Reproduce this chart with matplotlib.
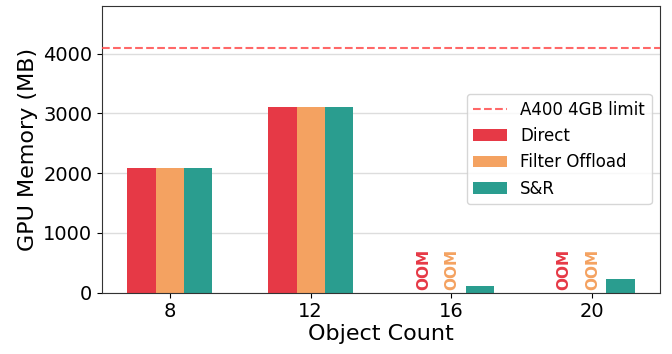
import matplotlib
matplotlib.use('Agg')
import matplotlib.pyplot as plt
import numpy as np

categories = ['8', '12', '16', '20']
direct = [2085, 3100, None, None]
filter_offload = [2085, 3100, None, None]
snr = [2085, 3100, 115, 230]
gpu_limit = 4096

colors = {'Direct': '#e63946', 'Filter Offload': '#f4a261', 'S&R': '#2a9d8f'}


def main():
    fig, ax = plt.subplots(figsize=(6.72, 3.54), dpi=100)
    fig.subplots_adjust(left=0.152, right=0.982, top=0.984, bottom=0.173)

    x = np.arange(len(categories))
    width = 0.2
    series = [('Direct', direct), ('Filter Offload', filter_offload), ('S&R', snr)]

    ax.axhline(gpu_limit, color='#ff4d4d', linestyle='--', linewidth=1.5,
               alpha=0.85, label='A400 4GB limit', zorder=3)

    for i, (name, values) in enumerate(series):
        offset = (i - 1) * width
        for xi, v in zip(x, values):
            if v is None:
                ax.text(xi + offset, 45, 'OOM', rotation=90, ha='center', va='bottom',
                        color=colors[name], fontsize=11, fontweight='bold')
        vals = [0 if v is None else v for v in values]
        ax.bar(x + offset, vals, width, color=colors[name], label=name, zorder=2)

    ax.set_ylim(0, 4800)
    ax.set_xticks(x)
    ax.set_xticklabels(categories)
    ax.tick_params(labelsize=14)
    ax.set_xlabel('Object Count', fontsize=16, labelpad=2)
    ax.set_ylabel('GPU Memory (MB)', fontsize=16)
    ax.yaxis.grid(True, color='#dddddd', linewidth=1, zorder=0)
    ax.set_axisbelow(True)
    for s in ax.spines.values():
        s.set_color('#333333')

    ax.legend(loc='center right', fontsize=12)

    plt.savefig('out.png', dpi=100)


main()
